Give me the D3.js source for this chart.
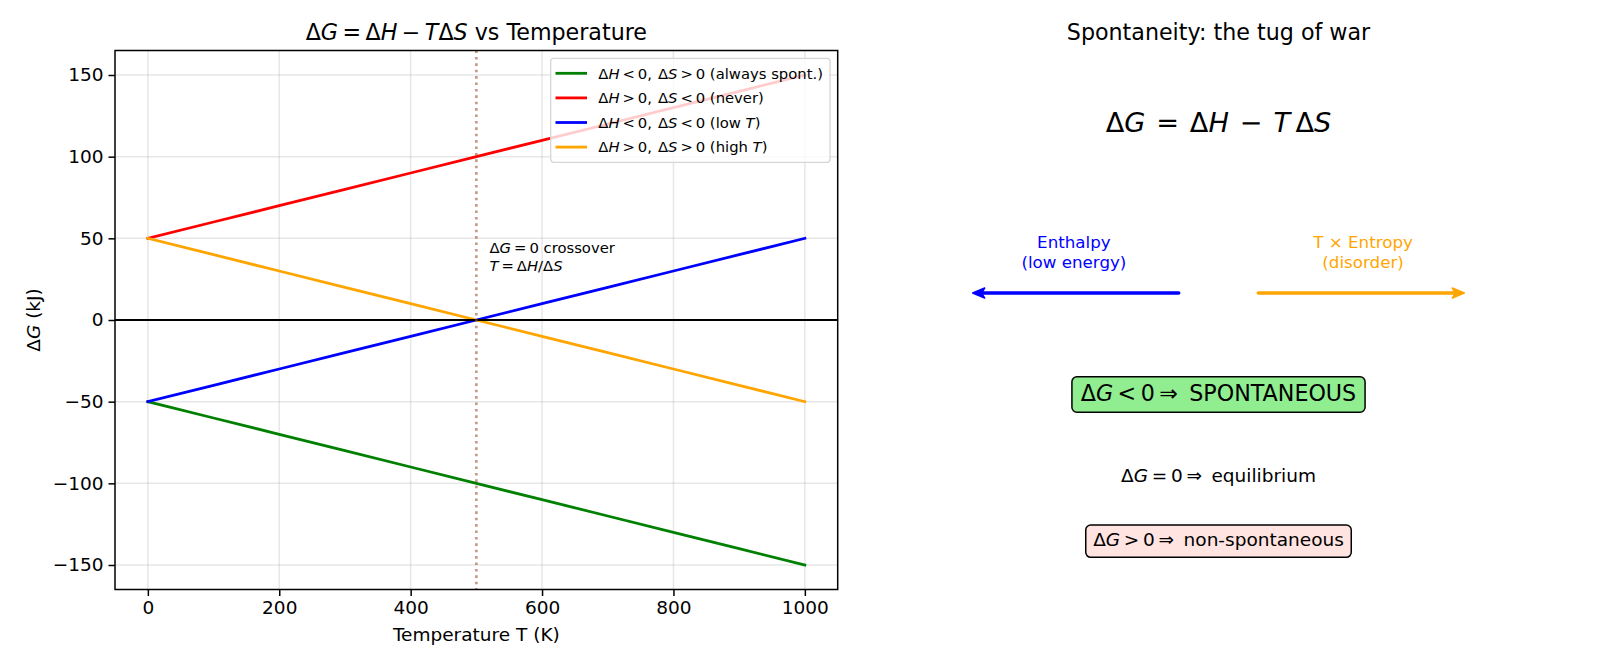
<!DOCTYPE html>
<html><head><meta charset="utf-8">
<script src="https://cdn.jsdelivr.net/npm/d3@7"></script>
<style>body{margin:0;background:#fff} svg{display:block} text{font-family:"DejaVu Sans",sans-serif;fill:#000;white-space:pre}</style>
</head><body><svg id="c" width="1600" height="667"></svg>
<script>
// ---------- data ----------
const temperatures = [0,100,200,300,400,500,600,700,800,900,1000];
const gAlwaysSpont = [-50,-60,-70,-80,-90,-100,-110,-120,-130,-140,-150];
const gNeverSpont  = [50,60,70,80,90,100,110,120,130,140,150];
const gLowT        = [-50,-40,-30,-20,-10,0,10,20,30,40,50];
const gHighT       = [50,40,30,20,10,0,-10,-20,-30,-40,-50];
const seriesColors = ["green","red","blue","orange"];
const xTickValues = [0,200,400,600,800,1000];
const yTickValues = [-150,-100,-50,0,50,100,150];
const crossoverT = 500;
const annotationPoint = [520, 30];
const TH = "\u2009"; // thin space (mathtext-like spacing)
// labels as [text, italic] segments (mathtext emulation)
const seriesLabels = [
  [["Δ"],["H",1],[TH+"<"+TH+"0,"+TH+TH+"Δ"],["S",1],[TH+">"+TH+"0 (always spont.)"]],
  [["Δ"],["H",1],[TH+">"+TH+"0,"+TH+TH+"Δ"],["S",1],[TH+"<"+TH+"0 (never)"]],
  [["Δ"],["H",1],[TH+"<"+TH+"0,"+TH+TH+"Δ"],["S",1],[TH+"<"+TH+"0 (low "],["T",1],[")"]],
  [["Δ"],["H",1],[TH+">"+TH+"0,"+TH+TH+"Δ"],["S",1],[TH+">"+TH+"0 (high "],["T",1],[")"]]
];
const seriesValues = [gAlwaysSpont, gNeverSpont, gLowT, gHighT];

const svg = d3.select("#c");
function mtext(sel, segs){
  segs.forEach(s=>{ const t=sel.append("tspan").text(s[0]); if(s[1]) t.attr("font-style","italic"); });
  return sel;
}

// ---------- left axes ----------
const L = {l:115, r:837.7, t:50.5, b:589.5};
const x = d3.scaleLinear().domain([-50,1050]).range([L.l,L.r]);
const y = d3.scaleLinear().domain([-165,165]).range([L.b,L.t]);
const g = svg.append("g");
const clipId="clipL";
svg.append("defs").append("clipPath").attr("id",clipId).append("rect")
  .attr("x",L.l).attr("y",L.t).attr("width",L.r-L.l).attr("height",L.b-L.t);

// grid
g.append("g").selectAll("line").data(xTickValues).join("line")
  .attr("x1",d=>x(d)).attr("x2",d=>x(d)).attr("y1",L.t).attr("y2",L.b)
  .attr("stroke","rgba(176,176,176,0.3)").attr("stroke-width",1.5);
g.append("g").selectAll("line").data(yTickValues).join("line")
  .attr("y1",d=>y(d)).attr("y2",d=>y(d)).attr("x1",L.l).attr("x2",L.r)
  .attr("stroke","rgba(176,176,176,0.3)").attr("stroke-width",1.5);

// series
const line = d3.line().x((d,i)=>x(temperatures[i])).y(d=>y(d));
const plot = g.append("g").attr("clip-path",`url(#${clipId})`);
seriesValues.forEach((vals,k)=>{
  plot.append("path").datum(vals).attr("d",line).attr("fill","none")
    .attr("stroke",seriesColors[k]).attr("stroke-width",2.8).attr("stroke-linecap","square");
});
// zero line
plot.append("line").attr("x1",L.l).attr("x2",L.r).attr("y1",y(0)).attr("y2",y(0))
  .attr("stroke","#000").attr("stroke-width",1.9);
// crossover dotted line
plot.append("line").attr("x1",x(crossoverT)).attr("x2",x(crossoverT)).attr("y1",L.t).attr("y2",L.b)
  .attr("stroke","#a0522d").attr("stroke-opacity",0.6).attr("stroke-width",2.6)
  .attr("stroke-dasharray","2.6,3.8");

// annotation
const ann = g.append("text").attr("font-size",14.8);
mtext(ann.append("tspan").attr("x",x(annotationPoint[0])).attr("y",y(annotationPoint[1])-18.4),
  [["Δ"],["G",1],[TH+"="+TH+"0 crossover"]]);
mtext(ann.append("tspan").attr("x",x(annotationPoint[0])).attr("y",y(annotationPoint[1])),
  [["T",1],[TH+"="+TH+"Δ"],["H",1],["/Δ"],["S",1]]);

// axes
const xAxis = g.append("g").attr("transform",`translate(0,${L.b})`)
  .call(d3.axisBottom(x).tickValues(xTickValues).tickSize(6.5).tickPadding(4.5).tickFormat(d3.format("d")));
const yAxis = g.append("g").attr("transform",`translate(${L.l},0)`)
  .call(d3.axisLeft(y).tickValues(yTickValues).tickSize(6.5).tickPadding(5).tickFormat(d=>d<0?"−"+Math.abs(d):d));
[xAxis,yAxis].forEach(a=>{
  a.select(".domain").remove();
  a.selectAll(".tick line").attr("stroke","#000").attr("stroke-width",1.5);
  a.selectAll(".tick text").attr("font-size",18.5).attr("font-family","DejaVu Sans").attr("fill","#000");
});
g.append("rect").attr("x",L.l).attr("y",L.t).attr("width",L.r-L.l).attr("height",L.b-L.t)
  .attr("fill","none").attr("stroke","#000").attr("stroke-width",1.5);

// labels
g.append("text").attr("x",(L.l+L.r)/2).attr("y",641).attr("text-anchor","middle").attr("font-size",18.5)
  .text("Temperature T (K)");
mtext(g.append("text").attr("transform",`translate(40,${(L.t+L.b)/2}) rotate(-90)`)
  .attr("text-anchor","middle").attr("font-size",18.5),[["Δ"],["G",1],[" (kJ)"]]);
mtext(g.append("text").attr("x",(L.l+L.r)/2).attr("y",40).attr("text-anchor","middle").attr("font-size",22.2),
  [["Δ"],["G",1],[TH+"="+TH+"Δ"],["H",1],[TH+"−"+TH],["T",1],["Δ"],["S",1],[" vs Temperature"]]);

// legend
const lg = g.append("g");
lg.append("rect").attr("x",550.7).attr("y",58.3).attr("width",830-550.7).attr("height",162.3-58.3)
  .attr("rx",3).attr("fill","rgba(255,255,255,0.8)").attr("stroke","#d6d6d6").attr("stroke-width",1.3);
seriesLabels.forEach((lab,k)=>{
  const cy = 73.3 + k*24.6;
  lg.append("line").attr("x1",555.5).attr("x2",587).attr("y1",cy).attr("y2",cy)
    .attr("stroke",seriesColors[k]).attr("stroke-width",2.8);
  mtext(lg.append("text").attr("x",598.3).attr("y",cy+5.2).attr("font-size",14.8), lab);
});

// ---------- right panel ----------
const px = d3.scaleLinear().domain([0,10]).range([857,1580]);
const py = d3.scaleLinear().domain([0,10]).range([589.5,50.5]);
const R = svg.append("g");
R.append("text").attr("x",px(5)).attr("y",40).attr("text-anchor","middle").attr("font-size",22.2)
  .text("Spontaneity: the tug of war");
mtext(R.append("text").attr("x",px(5)).attr("y",132).attr("text-anchor","middle").attr("font-size",27.2),
  [["Δ"],["G",1],[TH+TH+"="+TH+TH+"Δ"],["H",1],[TH+TH+"−"+TH+TH],["T",1],[TH+"Δ"],["S",1]]);

const forces = [
  {label:["Enthalpy","(low energy)"], color:"blue", from:4.45, to:1.6, tx:3},
  {label:["T × Entropy","(disorder)"], color:"orange", from:5.55, to:8.4, tx:7}
];
const arrowY = 5.5;
forces.forEach(f=>{
  const t = R.append("text").attr("text-anchor","middle").attr("font-size",16.7).attr("fill",f.color);
  f.label.forEach((s,i)=>t.append("tspan").attr("x",px(f.tx)).attr("y",247.5+i*20).text(s).attr("fill",f.color));
  const x0=px(f.from), x1=px(f.to), yy=py(arrowY), dir=Math.sign(x1-x0), hl=12, hw=5;
  R.append("line").attr("x1",x0).attr("x2",x1-dir*hl*0.8).attr("y1",yy).attr("y2",yy)
    .attr("stroke",f.color).attr("stroke-width",3.5).attr("stroke-linecap","round");
  R.append("path").attr("d",`M${x1},${yy} L${x1-dir*hl},${yy-hw} L${x1-dir*hl*0.75},${yy} L${x1-dir*hl},${yy+hw} Z`)
    .attr("fill",f.color).attr("stroke",f.color).attr("stroke-width",1.5).attr("stroke-linejoin","round");
});

function boxedText(segs, cx, baseline, fs, fill, boxH, capC){
  const t = mtext(R.append("text").attr("x",cx).attr("y",baseline).attr("text-anchor","middle").attr("font-size",fs), segs);
  if(fill){
    const bb = t.node().getBBox(), pad = 0.4*fs;
    R.insert("rect", () => t.node()).attr("x",bb.x-pad).attr("width",bb.width+2*pad)
      .attr("y",capC-boxH/2).attr("height",boxH).attr("rx",5)
      .attr("fill",fill).attr("stroke","#000").attr("stroke-width",1.5);
  }
}
boxedText([["Δ"],["G",1],[TH+"<"+TH+"0"+TH+"⇒"+TH+" SPONTANEOUS"]], px(5), 401, 22.2, "#90ee90", 35.6, 394.5);
boxedText([["Δ"],["G",1],[TH+"="+TH+"0"+TH+"⇒"+TH+" equilibrium"]], px(5), 481.5, 18.5, null);
boxedText([["Δ"],["G",1],[TH+">"+TH+"0"+TH+"⇒"+TH+" non-spontaneous"]], px(5), 546, 18.5, "#ffe4e1", 32.3, 541.2);
</script></body></html>
